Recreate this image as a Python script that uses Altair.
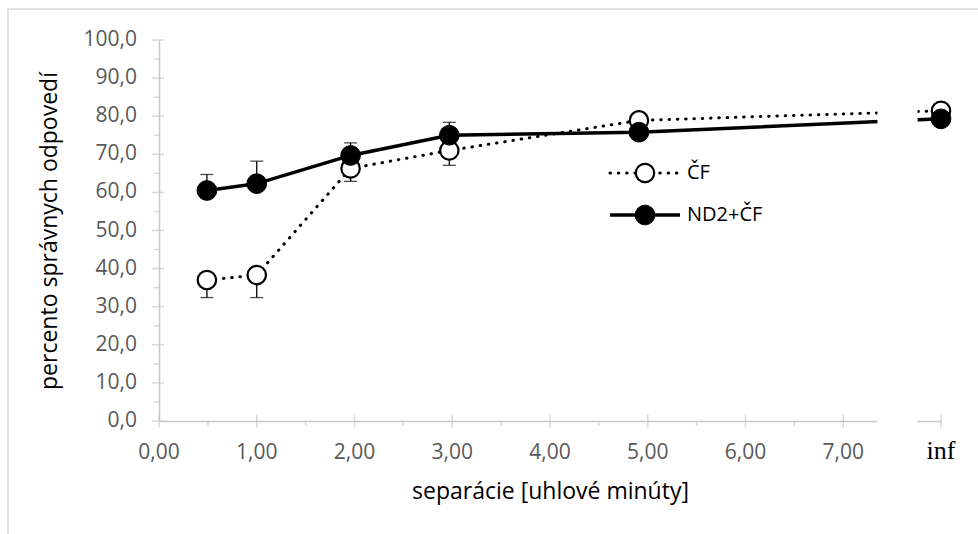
import altair as alt
import pandas as pd
import math

# ---- data ----
separation = [0.49, 1.0, 1.96, 2.97, 4.91, 8.0]   # 8.0 stands for "inf"
cf_values = [37.0, 38.3, 66.3, 71.0, 78.9, 81.4]
cf_err_minus = [4.6, 5.9, 3.4, 3.9, None, None]
nd2_values = [60.5, 62.3, 69.7, 75.0, 75.8, 79.3]
nd2_err_plus = [4.2, 5.9, 3.3, 3.4, None, None]

x_major = [0, 1, 2, 3, 4, 5, 6, 7]
x_inf = [8]
x_inf_label = ["inf"]
x_minor = [0.5, 1.5, 2.5, 3.5, 4.5, 5.5, 6.5, 7.5]
y_major = [0, 10, 20, 30, 40, 50, 60, 70, 80, 90, 100]
y_minor = [5, 15, 25, 35, 45, 55, 65, 75, 85, 95]
gap = [7.35, 7.76]          # axis break before "inf"

series_names = ["ČF", "ND2+ČF"]
x_title = "separácie [uhlové minúty]"
y_title = "percento správnych odpovedí"


def _ok(e):
    return e is not None and not (isinstance(e, float) and math.isnan(e))


# ---- tables ----
cf = pd.DataFrame({"x": separation, "y": cf_values})
cf["lo"] = [v - e if _ok(e) else None for v, e in zip(cf_values, cf_err_minus)]
cf_err = cf.dropna(subset=["lo"])
nd = pd.DataFrame({"x": separation, "y": nd2_values})
nd["hi"] = [v + e if _ok(e) else None for v, e in zip(nd2_values, nd2_err_plus)]
nd_err = nd.dropna(subset=["hi"])

x_lab = pd.DataFrame({"x": x_major, "t": [f"{v:.2f}".replace(".", ",") for v in x_major]})
y_lab = pd.DataFrame({"y": y_major, "t": [f"{v:.1f}".replace(".", ",") for v in y_major]})
inf_lab = pd.DataFrame({"x": x_inf, "t": x_inf_label})

FONT = "Open Sans"
W, H = 782, 381
AX = "#c8c8c8"
LABEL_GRAY = "#595959"

xs = alt.Scale(domain=[0, 8], nice=False, zero=False)
ys = alt.Scale(domain=[0, 100], nice=False)

x_axis = alt.Axis(
    title=x_title, labels=False, ticks=False, grid=False,
    domainColor=AX, domainWidth=1.5,
    titleFont=FONT, titleFontSize=23, titleFontWeight="normal", titleColor="#000000",
    titlePadding=59,
)
y_axis = alt.Axis(
    title=y_title, labels=False, ticks=False, grid=False,
    domainColor=AX, domainWidth=1.5,
    titleFont=FONT, titleFontSize=23, titleFontWeight="normal", titleColor="#000000",
    titlePadding=98,
)

one = pd.DataFrame({"k": [0]})


def X(field):
    return alt.X(field, scale=xs, axis=x_axis)


def Y(field):
    return alt.Y(field, scale=ys, axis=y_axis)


# frame around whole chart
frame = alt.Chart(one).mark_rect(
    fill=None, stroke="#d9d9d9", strokeWidth=1.5, clip=False
).encode(x=alt.value(-151), x2=alt.value(W + 60), y=alt.value(-31), y2=alt.value(H + 200))

cf_rule = alt.Chart(cf_err).mark_rule(color="black", strokeWidth=1.3).encode(
    x=X("x:Q"), y=Y("y:Q"), y2="lo:Q")
cf_cap = alt.Chart(cf_err).mark_tick(color="black", thickness=1.3, size=13, orient="horizontal").encode(
    x=X("x:Q"), y=Y("lo:Q"))
cf_line = alt.Chart(cf).mark_line(color="black", strokeWidth=3, strokeDash=[0.5, 7.8],
                                  strokeCap="round").encode(x=X("x:Q"), y=Y("y:Q"))
cf_pts = alt.Chart(cf).mark_point(shape="circle", filled=True, fill="white", stroke="black",
                                  strokeWidth=2.2, size=340, opacity=1, clip=False).encode(
    x=X("x:Q"), y=Y("y:Q"))

nd_rule = alt.Chart(nd_err).mark_rule(color="black", strokeWidth=1.3).encode(
    x=X("x:Q"), y=Y("y:Q"), y2="hi:Q")
nd_cap = alt.Chart(nd_err).mark_tick(color="black", thickness=1.3, size=13, orient="horizontal").encode(
    x=X("x:Q"), y=Y("hi:Q"))
nd_line = alt.Chart(nd).mark_line(color="black", strokeWidth=3.5).encode(x=X("x:Q"), y=Y("y:Q"))
nd_pts = alt.Chart(nd).mark_point(shape="circle", filled=True, fill="black", stroke="black",
                                  strokeWidth=1, size=390, opacity=1, clip=False).encode(
    x=X("x:Q"), y=Y("y:Q"))

# axis ticks: major ones cross the axis, minor ones point outward
xt_major = alt.Chart(pd.DataFrame({"x": x_major + x_inf})).mark_tick(
    color=AX, thickness=1.5, size=13, orient="vertical", clip=False).encode(
    x=X("x:Q"), y=alt.datum(0))
xt_minor = alt.Chart(pd.DataFrame({"x": x_minor})).mark_tick(
    color=AX, thickness=1.5, size=5, yOffset=2.5, orient="vertical", clip=False).encode(
    x=X("x:Q"), y=alt.datum(0))
yt_major = alt.Chart(pd.DataFrame({"y": y_major})).mark_tick(
    color=AX, thickness=1.5, size=12, xOffset=-1, orient="horizontal", clip=False).encode(
    y=Y("y:Q"), x=alt.datum(0))
yt_minor = alt.Chart(pd.DataFrame({"y": y_minor})).mark_tick(
    color=AX, thickness=1.5, size=5, xOffset=-2.5, orient="horizontal", clip=False).encode(
    y=Y("y:Q"), x=alt.datum(0))

# tick labels
x_labels = alt.Chart(x_lab).mark_text(
    align="center", baseline="middle", dy=32, font=FONT, fontSize=21, color=LABEL_GRAY,
    clip=False).encode(x=X("x:Q"), y=alt.datum(0), text="t:N")
inf_label = alt.Chart(inf_lab).mark_text(
    align="center", baseline="middle", dy=30, font="Liberation Serif", fontSize=26,
    color="black", clip=False).encode(x=X("x:Q"), y=alt.datum(0), text="t:N")
y_labels = alt.Chart(y_lab).mark_text(
    align="right", baseline="middle", dx=-22, font=FONT, fontSize=21, color=LABEL_GRAY,
    clip=False).encode(y=Y("y:Q"), x=alt.datum(0), text="t:N")

# axis break (white box hiding the lines and axis between 7.35 and 7.76)
gap_rect = alt.Chart(pd.DataFrame({"x": [gap[0]], "x2": [gap[1]]})).mark_rect(
    fill="white", clip=False).encode(
    x=X("x:Q"), x2="x2:Q", y=alt.datum(101), y2=alt.datum(-2.0))

# legend
LX1, LX2, LXC, LTX = 451, 521, 486, 528
LY1, LY2 = 133, 175
leg_cf_line = alt.Chart(one).mark_rule(color="black", strokeWidth=3, strokeDash=[0.5, 7.8],
                                       strokeCap="round").encode(
    x=alt.value(LX1), x2=alt.value(LX2), y=alt.value(LY1))
leg_cf_pt = alt.Chart(one).mark_point(shape="circle", filled=True, fill="white", stroke="black",
                                      strokeWidth=2.2, size=340, opacity=1).encode(
    x=alt.value(LXC), y=alt.value(LY1))
leg_cf_txt = alt.Chart(pd.DataFrame({"t": [series_names[0]]})).mark_text(
    align="left", baseline="middle", font=FONT, fontSize=20, color="black").encode(
    x=alt.value(LTX), y=alt.value(LY1), text="t:N")
leg_nd_line = alt.Chart(one).mark_rule(color="black", strokeWidth=3.5).encode(
    x=alt.value(LX1), x2=alt.value(LX2), y=alt.value(LY2))
leg_nd_pt = alt.Chart(one).mark_point(shape="circle", filled=True, fill="black", stroke="black",
                                      strokeWidth=1, size=390, opacity=1).encode(
    x=alt.value(LXC), y=alt.value(LY2))
leg_nd_txt = alt.Chart(pd.DataFrame({"t": [series_names[1]]})).mark_text(
    align="left", baseline="middle", font=FONT, fontSize=20, color="black").encode(
    x=alt.value(LTX), y=alt.value(LY2), text="t:N")

chart = alt.layer(
    cf_rule, frame, xt_major, xt_minor, yt_major, yt_minor,
    x_labels, inf_label, y_labels,
    cf_cap, cf_line, cf_pts, nd_rule, nd_cap, nd_line, nd_pts,
    gap_rect,
    leg_cf_line, leg_cf_pt, leg_cf_txt, leg_nd_line, leg_nd_pt, leg_nd_txt,
).properties(
    width=W, height=H,
    padding={"left": 159, "top": 40, "right": 978 - 159 - W, "bottom": 534 - 40 - H},
    autosize=alt.AutoSizeParams(type="none"),
    background="white",
).configure_view(stroke=None)

chart.save("out.html", embed_options={"renderer": "svg", "actions": False})
